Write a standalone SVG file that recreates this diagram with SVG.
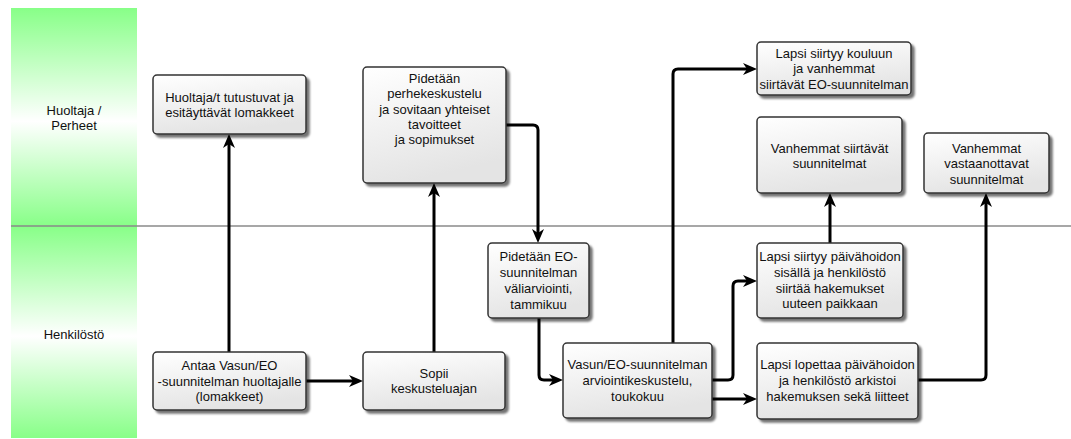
<svg xmlns="http://www.w3.org/2000/svg" width="1071" height="439" viewBox="0 0 1071 439">
<style>
text{font-family:"Liberation Sans",Arial,sans-serif;font-size:13px;fill:#111;text-anchor:middle}
.node rect{fill:url(#nodeFill);stroke:#333;stroke-width:1.5;filter:url(#shadow)}
.conn path{fill:none;stroke:#000;stroke-width:3;stroke-linejoin:round;marker-end:url(#arrow)}
.lane{fill:url(#laneFill)}
</style>
<defs>
<linearGradient id="laneFill" x1="0" y1="0" x2="0" y2="1">
<stop offset="0" stop-color="#88ff88"/>
<stop offset="0.52" stop-color="#ffffff"/>
<stop offset="1" stop-color="#88ff88"/>
</linearGradient>
<linearGradient id="nodeFill" x1="0" y1="0" x2="0.3" y2="1">
<stop offset="0" stop-color="#ffffff"/>
<stop offset="1" stop-color="#e4e4e4"/>
</linearGradient>
<filter id="shadow" x="-10%" y="-10%" width="130%" height="130%">
<feDropShadow dx="3" dy="3" stdDeviation="1.2" flood-color="#000" flood-opacity="0.55"/>
</filter>
<marker id="arrow" markerUnits="userSpaceOnUse" markerWidth="15" markerHeight="13" refX="4" refY="6" orient="auto" viewBox="0 0 15 13">
<path d="M0,0 L14,6 L0,12 L4,6 Z" fill="#000"/>
</marker>
</defs>

<g id="lanes">
<rect class="lane" x="11" y="8" width="126" height="218"/>
<rect class="lane" x="11" y="226" width="126" height="212"/>
<line x1="11" y1="226" x2="1071" y2="226" stroke="#8a8a8a" stroke-width="1.5"/>
<text x="74" y="114.5">Huoltaja /</text>
<text x="74" y="129.5">Perheet</text>
<text x="74" y="338.5">Henkilöstö</text>
</g>

<g id="connectors" class="conn">
<path d="M229,352 L229,144"/>
<path d="M306,381 L353,381"/>
<path d="M434,352 L434,193"/>
<path d="M506,125 L533,125 Q538,125 538,130 L538,233"/>
<path d="M539,318 L539,375 Q539,380 544,380 L553,380"/>
<path d="M673,343 L673,74 Q673,69 678,69 L747,69"/>
<path d="M712,380 L728,380 Q733,380 733,375 L733,286 Q733,281 738,281 L747,281"/>
<path d="M712,399 L747,399"/>
<path d="M830,243 L830,203"/>
<path d="M918,380 L981,380 Q986,380 986,375 L986,203"/>
</g>

<g id="n1" class="node">
<rect x="153" y="75" width="153" height="59" rx="4"/>
<text x="229.5" y="101.5">Huoltaja/t tutustuvat ja</text>
<text x="229.5" y="116.5">esitäyttävät lomakkeet</text>
</g>
<g id="n2" class="node">
<rect x="153" y="352" width="153" height="58" rx="4"/>
<text x="229.5" y="370">Antaa Vasun/EO</text>
<text x="229.5" y="385.5">-suunnitelman huoltajalle</text>
<text x="229.5" y="401">(lomakkeet)</text>
</g>
<g id="n3" class="node">
<rect x="363" y="67" width="143" height="116" rx="4"/>
<text x="434.5" y="82.8">Pidetään</text>
<text x="434.5" y="98.2">perhekeskustelu</text>
<text x="434.5" y="113.6">ja sovitaan yhteiset</text>
<text x="434.5" y="129">tavoitteet</text>
<text x="434.5" y="144.4">ja sopimukset</text>
</g>
<g id="n4" class="node">
<rect x="563" y="343" width="149" height="75" rx="4"/>
<text x="637.5" y="369.3">Vasun/EO-suunnitelman</text>
<text x="637.5" y="385">arviointikeskustelu,</text>
<text x="637.5" y="400.5">toukokuu</text>
</g>
<g id="n5" class="node">
<rect x="488" y="243" width="101" height="75" rx="4"/>
<text x="538.5" y="261">Pidetään EO-</text>
<text x="538.5" y="277">suunnitelman</text>
<text x="538.5" y="293">väliarviointi,</text>
<text x="538.5" y="308.5">tammikuu</text>
</g>
<g id="n6" class="node">
<rect x="363" y="352" width="142" height="58" rx="4"/>
<text x="434" y="377.5">Sopii</text>
<text x="434" y="393">keskusteluajan</text>
</g>
<g id="n7" class="node">
<rect x="757" y="42" width="154" height="53" rx="4"/>
<text x="834" y="57.8">Lapsi siirtyy kouluun</text>
<text x="834" y="73.2">ja vanhemmat</text>
<text x="834" y="88.6">siirtävät EO-suunnitelman</text>
</g>
<g id="n8" class="node">
<rect x="757" y="117" width="145" height="76" rx="4"/>
<text x="829.5" y="152.8">Vanhemmat siirtävät</text>
<text x="829.5" y="168">suunnitelmat</text>
</g>
<g id="n9" class="node">
<rect x="924" y="133" width="125" height="60" rx="4"/>
<text x="986.5" y="152.8">Vanhemmat</text>
<text x="986.5" y="168.3">vastaanottavat</text>
<text x="986.5" y="183.8">suunnitelmat</text>
</g>
<g id="n10" class="node">
<rect x="757" y="243" width="146" height="75" rx="4"/>
<text x="830" y="261">Lapsi siirtyy päivähoidon</text>
<text x="830" y="276.5">sisällä ja henkilöstö</text>
<text x="830" y="292.5">siirtää hakemukset</text>
<text x="830" y="308">uuteen paikkaan</text>
</g>
<g id="n11" class="node">
<rect x="757" y="343" width="161" height="76" rx="4"/>
<text x="837.5" y="369.3">Lapsi lopettaa päivähoidon</text>
<text x="837.5" y="385">ja henkilöstö arkistoi</text>
<text x="837.5" y="400.5">hakemuksen sekä liitteet</text>
</g>
</svg>
